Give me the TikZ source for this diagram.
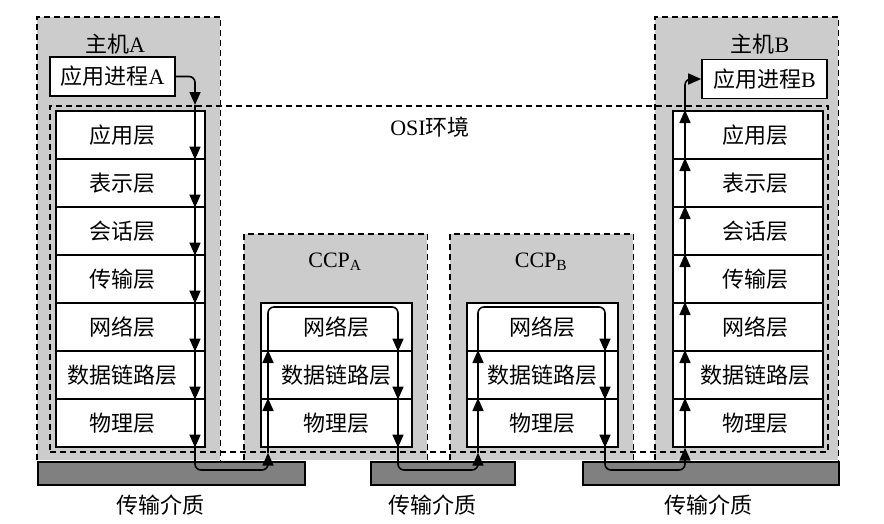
\documentclass[tikz,border=0pt]{standalone}
\usepackage{fontspec}
\setmainfont{Liberation Serif}
\newfontfamily\cjk{Noto Sans CJK SC}
\usetikzlibrary{arrows.meta}
\newcommand{\zh}[1]{{\cjk #1}}

\begin{document}
\begin{tikzpicture}[x=1pt,y=-1pt,
    font=\fontsize{22}{26}\selectfont,
    every node/.style={inner sep=0pt},
    shade/.style={fill=gray!40, anchor=north west},
    edge/.style={dashed, dash pattern=on 6pt off 4pt, line width=1.7pt},
    osibox/.style={draw, edge, anchor=north west},
    layer/.style={draw, fill=white, line width=1.6pt, anchor=north west, minimum height=48},
    appbox/.style={draw, fill=white, line width=1.6pt, minimum width=125, minimum height=39},
    medium/.style={draw, fill=gray, line width=1.6pt, anchor=north west, minimum height=23},
    wire/.style={line width=1.6pt},
    flow/.style={wire, -{Triangle[width=11pt,length=13pt]}}]
    \useasboundingbox (0,0) rectangle (884,523);

    % grey boxes
    \node[shade, minimum width=183, minimum height=443] (hostA) at (37,17) {};
    \node[shade, minimum width=183, minimum height=226] (ccpA) at (244,234) {};
    \node[shade, minimum width=183, minimum height=226] (ccpB) at (450,234) {};
    \node[shade, minimum width=183, minimum height=443] (hostB) at (655,17) {};
    \foreach \b in {hostA,ccpA,ccpB,hostB}
        \draw[edge] (\b.south west) -- (\b.north west) -- (\b.north east) -- (\b.south east);

    \node[osibox, minimum width=778, minimum height=346] (osi) at (49,105) {};
    \node (osiname) at (430,127) {OSI\zh{环境}};

    \node (nameA) at (115,44) {\zh{主机}A};
    \node (nameB) at (760,44) {\zh{主机}B};
    \node (nameCA) at (335,262) {CCP\textsubscript{A}};
    \node (nameCB) at (541,262) {CCP\textsubscript{B}};

    \node[appbox] (appA) at (112.5,76.5) {\zh{应用进程}A};
    \node[appbox] (appB) at (764.5,79) {\zh{应用进程}B};

    % layer stacks
    \foreach \t [count=\i] in {应用层,表示层,会话层,传输层,网络层,数据链路层,物理层} {
        \node[layer, minimum width=149, label={[xshift=-8pt]center:\zh{\t}}] (a\i) at (55,{110+48*(\i-1)}) {};
        \node[layer, minimum width=150, label={[xshift=8pt]center:\zh{\t}}] (b\i) at (672,{110+48*(\i-1)}) {};
    }
    \foreach \t [count=\i] in {网络层,数据链路层,物理层} {
        \node[layer, minimum width=151] (ca\i) at (260,{302+48*(\i-1)}) {\zh{\t}};
        \node[layer, minimum width=151] (cb\i) at (466,{302+48*(\i-1)}) {\zh{\t}};
    }

    % transmission media
    \node[medium, minimum width=267] (m1) at (37,461) {};
    \node[medium, minimum width=144] (m2) at (370,461) {};
    \node[medium, minimum width=256] (m3) at (582,461) {};
    \node (t1) at (160,505) {\zh{传输介质}};
    \node (t2) at (432,505) {\zh{传输介质}};
    \node (t3) at (708,505) {\zh{传输介质}};

    % data path
    \coordinate (ax) at (195,0);
    \coordinate (cau) at (268,0);
    \coordinate (cad) at (398,0);
    \coordinate (cbu) at (478,0);
    \coordinate (cbd) at (605,0);
    \coordinate (bx) at (685,0);
    \coordinate (low) at (0,470);
    \coordinate (top) at (0,307);

    \draw[flow, rounded corners=6pt] (appA.east) -| (ax |- osi.north);
    \draw[wire] (ax |- osi.north) -- (a1.north -| ax);
    \foreach \i in {1,...,7}
        \draw[flow] (a\i.north -| ax) -- (a\i.south -| ax);
    \draw[flow, rounded corners=6pt] (a7.south -| ax) |- (cau |- low) -- (cau |- osi.south);

    \draw[flow] (cau |- osi.south) -- (ca3.north -| cau);
    \draw[flow] (ca3.north -| cau) -- (ca2.north -| cau);
    \draw[flow, rounded corners=6pt] (ca2.north -| cau) |- (cad |- top) -- (ca1.south -| cad);
    \draw[flow] (ca1.south -| cad) -- (ca2.south -| cad);
    \draw[flow] (ca2.south -| cad) -- (ca3.south -| cad);
    \draw[flow, rounded corners=6pt] (ca3.south -| cad) |- (cbu |- low) -- (cbu |- osi.south);

    \draw[flow] (cbu |- osi.south) -- (cb3.north -| cbu);
    \draw[flow] (cb3.north -| cbu) -- (cb2.north -| cbu);
    \draw[flow, rounded corners=6pt] (cb2.north -| cbu) |- (cbd |- top) -- (cb1.south -| cbd);
    \draw[flow] (cb1.south -| cbd) -- (cb2.south -| cbd);
    \draw[flow] (cb2.south -| cbd) -- (cb3.south -| cbd);
    \draw[flow, rounded corners=6pt] (cb3.south -| cbd) |- (bx |- low) -- (b7.south -| bx);

    \foreach \i in {7,...,1}
        \draw[flow] (b\i.south -| bx) -- (b\i.north -| bx);
    \draw[flow, rounded corners=6pt] (b1.north -| bx) |- (appB.west);
\end{tikzpicture}
\end{document}
